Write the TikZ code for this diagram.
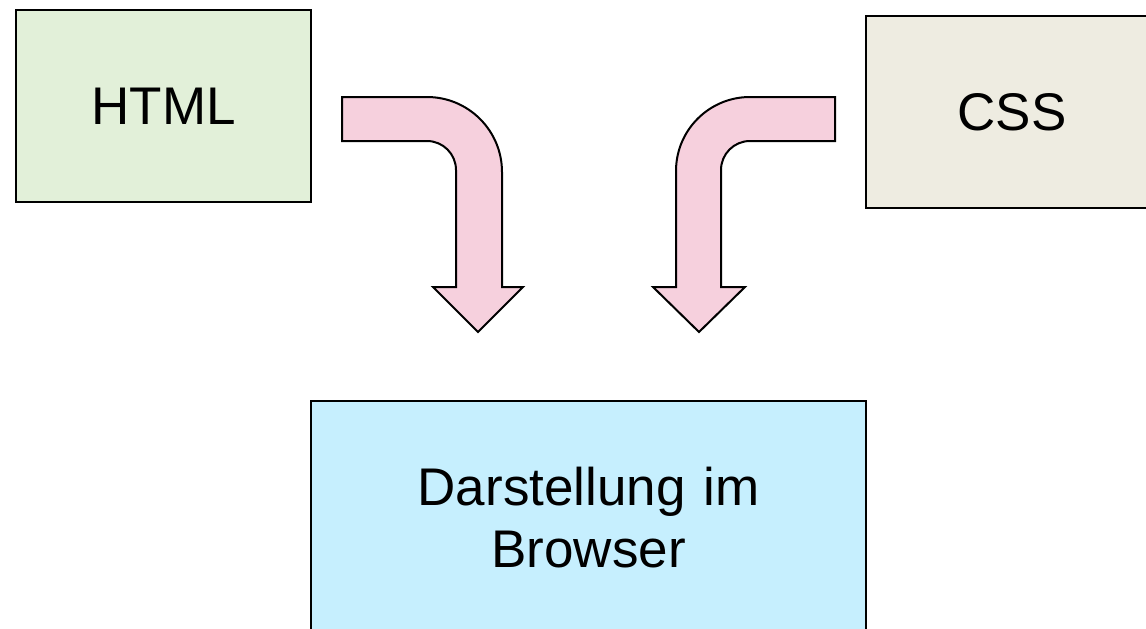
\documentclass[tikz,border=0pt]{standalone}
\usepackage{fontspec}
\setmainfont{Liberation Sans}
\definecolor{htmlfill}{RGB}{226,240,217}
\definecolor{cssfill}{RGB}{238,236,225}
\definecolor{brfill}{RGB}{198,239,254}
\definecolor{arrowfill}{RGB}{246,208,221}
\tikzset{
  box/.style={draw=black, line width=1.8pt, inner sep=0pt, align=center,
    font=\fontsize{53}{62}\selectfont},
  blockarrow/.style={draw=black, line width=2pt, fill=arrowfill, line join=miter}
}
\begin{document}
\begin{tikzpicture}[x=1pt,y=-1pt]
\useasboundingbox (0,0) rectangle (1146,629);
\clip (0,0) rectangle (1146,629);
\fill[white] (0,0) rectangle (1146,629);
\node[box, fill=htmlfill, minimum width=295pt, minimum height=192pt] (html) at (163.5,106) {HTML};
\node[box, fill=cssfill, minimum width=292pt, minimum height=192pt] (css) at (1012,112) {CSS};
\node[box, fill=brfill, minimum width=555pt, minimum height=234pt, text width=540pt] (browser) at (588.5,518) {Darstellung im\\Browser};
\draw[blockarrow] (342,97) -- (427,97) arc[start angle=-90, end angle=0, radius=75]
  -- (502,287) -- (523,287) -- (478,332) -- (433,287) -- (456,287) -- (456,170)
  arc[start angle=0, end angle=-90, radius=29] -- (342,141) -- cycle;
\draw[blockarrow] (835,97) -- (750,97) arc[start angle=-90, end angle=-180, radius=74]
  -- (676,287) -- (653,287) -- (699,332) -- (745,287) -- (721,287) -- (721,170)
  arc[start angle=180, end angle=270, radius=29] -- (835,141) -- cycle;
\end{tikzpicture}
\end{document}
